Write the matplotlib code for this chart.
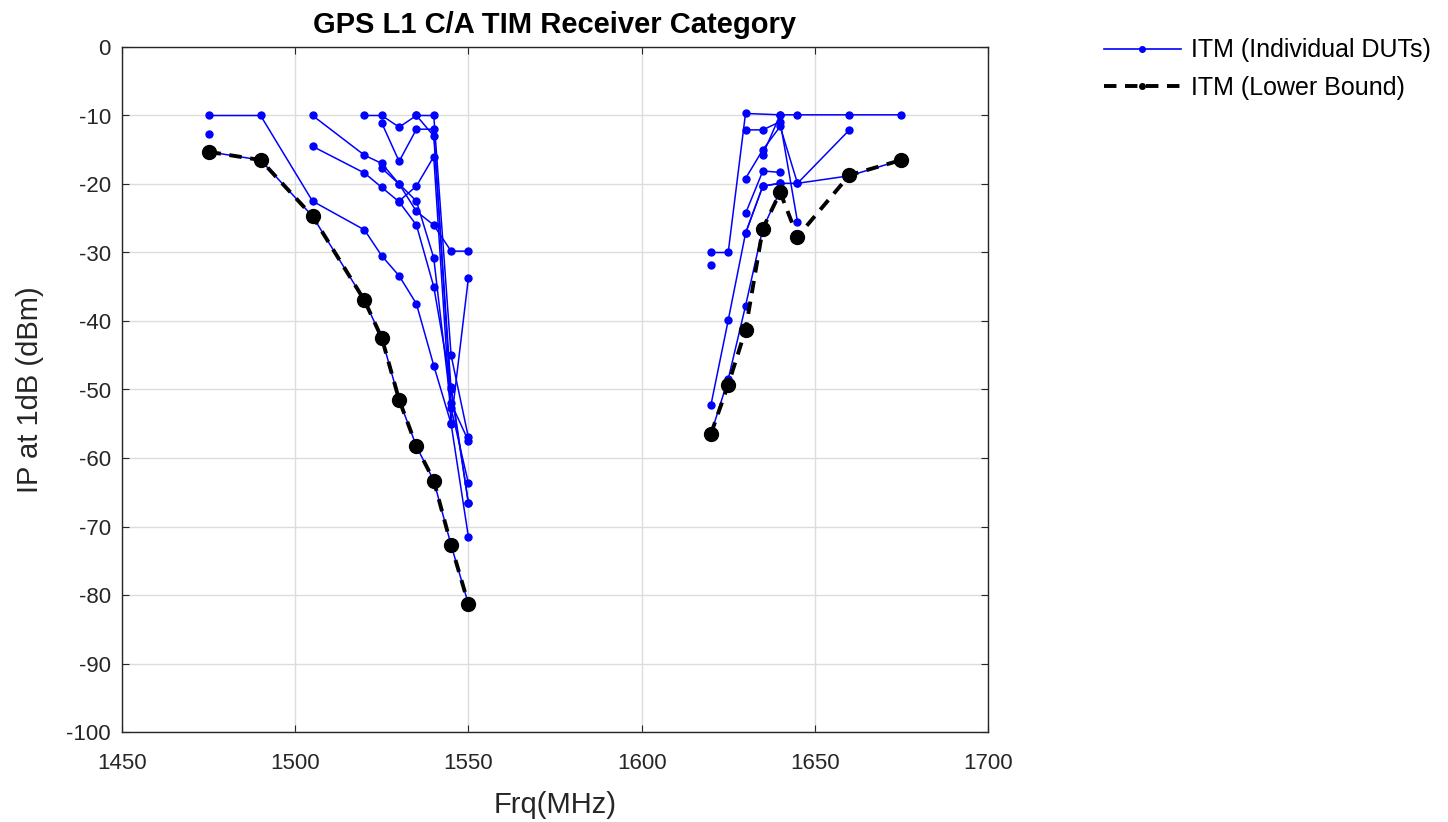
import numpy as np
import matplotlib
matplotlib.use("Agg")
import matplotlib.pyplot as plt
from matplotlib.lines import Line2D

plt.rcParams['font.family'] = ['Liberation Sans', 'DejaVu Sans']
plt.rcParams['axes.unicode_minus'] = False

nan = np.nan
# Frequencies (MHz)
freqs_left = [1475, 1490, 1505, 1520, 1525, 1530, 1535, 1540, 1545, 1550]
freqs_right = [1620, 1625, 1630, 1635, 1640, 1645, 1660, 1675]

# Individual DUTs, lower band (dBm)
dut_l1 = [-10.0, -10.0, -22.5, -26.7, -30.5, -33.4, -37.5, -46.5, -55.0, -71.5]
dut_l2 = [-15.3, -16.5, -24.7, -37.0, -42.5, -51.5, -58.3, -63.3, -72.7, -81.3]
dut_l3 = [-12.7, nan, nan, nan, nan, nan, nan, nan, nan, nan]
dut_l4 = [nan, nan, -10.0, -15.8, -17.0, -20.0, -22.5, -30.8, -52.7, -63.7]
dut_l5 = [nan, nan, -14.5, -18.4, -20.5, -22.6, -26.0, -35.0, -49.6, -66.6]
dut_l6 = [nan, nan, nan, -10.0, -10.0, -11.7, -10.0, -10.0, -45.0, -57.0]
dut_l7 = [nan, nan, nan, nan, -11.1, -16.7, -12.0, -12.0, -52.0, -57.5]
dut_l8 = [nan, nan, nan, nan, -17.7, -20.0, -24.0, -26.0, -29.8, -29.8]
dut_l9 = [nan, nan, nan, nan, nan, -22.5, -20.3, -16.0, -54.9, -33.7]
dut_l10 = [nan, nan, nan, nan, nan, nan, -10.0, -13.0, -50.0, -66.6]

# Individual DUTs, upper band (dBm)
dut_r1 = [-30.0, -30.0, -9.7, nan, -9.9, -9.9, -9.9, -9.9]
dut_r2 = [-52.3, -39.9, -27.2, -20.3, -19.9, -19.9, -12.1, nan]
dut_r3 = [-56.5, -48.5, -37.8, -26.5, -21.0, nan, nan, nan]
dut_r4 = [-31.8, nan, nan, nan, nan, nan, nan, nan]
dut_r5 = [nan, nan, -12.1, -12.1, -10.9, -25.5, nan, nan]
dut_r6 = [nan, nan, -19.2, -15.0, -11.6, -19.9, -18.8, -16.5]
dut_r7 = [nan, nan, -24.3, -18.1, -18.3, nan, nan, nan]
dut_r8 = [nan, nan, -27.2, -20.3, -19.9, nan, nan, nan]
dut_r9 = [nan, nan, nan, -15.7, -9.9, nan, nan, nan]

# Lower bound
lb_left = [-15.3, -16.5, -24.7, -37.0, -42.5, -51.5, -58.3, -63.3, -72.7, -81.3]
lb_right = [-56.5, -49.3, -41.3, -26.5, -21.2, -27.7, -18.7, -16.5]

xticks = [1450, 1500, 1550, 1600, 1650, 1700]
yticks = list(range(-100, 1, 10))

W, H = 1448, 822
fig = plt.figure(figsize=(W / 100, H / 100), dpi=100)
ax = fig.add_axes([122 / W, 1 - 732 / H, (988 - 122) / W, (732 - 47) / H])

blue = '#0000FF'
left_duts = [dut_l1, dut_l2, dut_l3, dut_l4, dut_l5, dut_l6, dut_l7, dut_l8, dut_l9, dut_l10]
right_duts = [dut_r1, dut_r2, dut_r3, dut_r4, dut_r5, dut_r6, dut_r7, dut_r8, dut_r9]

for freqs, group in ((freqs_left, left_duts), (freqs_right, right_duts)):
    f = np.array(freqs, dtype=float)
    for d in group:
        v = np.array(d, dtype=float)
        m = np.isfinite(v)
        ax.plot(f[m], v[m], color=blue, lw=1.1, marker='o', ms=5,
                mec=blue, mfc=blue, zorder=3)

for freqs, lb in ((freqs_left, lb_left), (freqs_right, lb_right)):
    ax.plot(freqs, lb, color='black', lw=2.8, ls=(0, (3.2, 2.2)),
            marker='o', ms=10, mfc='black', mec='black', zorder=4)

ax.set_xlim(1450, 1700)
ax.set_ylim(-100, 0)
ax.set_xticks(xticks)
ax.set_yticks(yticks)
ax.grid(True, color='#dcdcdc', lw=1.0)
ax.set_axisbelow(True)
ax.tick_params(direction='in', length=5, labelsize=16, colors='#262626',
               top=True, right=True)
ax.tick_params(axis='x', pad=15)
ax.tick_params(axis='y', pad=8)
for s in ax.spines.values():
    s.set_color('#262626')
    s.set_linewidth(1.0)

ax.set_xlabel('Frq(MHz)', fontsize=21, color='#262626', labelpad=12)
ax.set_ylabel('IP at 1dB (dBm)', fontsize=21, color='#262626', labelpad=16)
ax.set_title('GPS L1 C/A TIM Receiver Category', fontsize=21, fontweight='bold',
             color='black', pad=10)

handles = [
    Line2D([], [], color=blue, lw=1.2, marker='o', ms=4),
    Line2D([], [], color='black', lw=2.8, ls=(0, (3.2, 2.2)), marker='o', ms=4),
]
fig.legend(handles, ['ITM (Individual DUTs)', 'ITM (Lower Bound)'],
           loc='upper left', bbox_to_anchor=(1081 / W, 1 - 16 / H),
           frameon=False, fontsize=18, handlelength=3.1, labelspacing=0.55,
           handletextpad=0.4)

fig.savefig('out.png', dpi=100)
